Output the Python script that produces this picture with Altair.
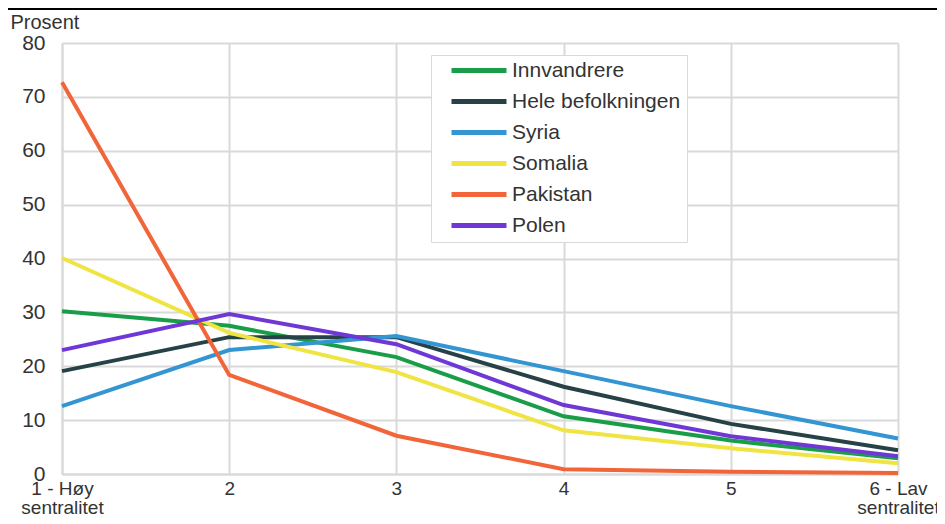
import altair as alt
import pandas as pd

categories = ["1 - Høy|sentralitet", "2", "3", "4", "5", "6 - Lav|sentralitet"]
series_names = ["Innvandrere", "Hele befolkningen", "Syria", "Somalia", "Pakistan", "Polen"]
innvandrere = [30.2, 27.5, 21.7, 10.7, 6.2, 2.9]
hele = [19.1, 25.4, 25.4, 16.2, 9.3, 4.4]
syria = [12.6, 23.0, 25.6, 19.1, 12.6, 6.6]
somalia = [40.1, 26.2, 18.9, 8.1, 4.8, 2.0]
pakistan = [72.7, 18.4, 7.1, 0.9, 0.4, 0.2]
polen = [23.0, 29.7, 24.1, 12.8, 7.0, 3.3]
colors = ["#1a9d49", "#274247", "#3396d2", "#f0e442", "#f26539", "#6e37d6"]

rows = []
for name, vals in zip(series_names, [innvandrere, hele, syria, somalia, pakistan, polen]):
    for c, v in zip(categories, vals):
        rows.append({"kat": c, "serie": name, "verdi": v})
df = pd.DataFrame(rows)

FONT = "Liberation Sans"
TXT = "#333333"

lines = alt.Chart(df).mark_line(strokeWidth=4).encode(
    x=alt.X("kat:N", sort=categories, scale=alt.Scale(type="point", padding=0),
            axis=alt.Axis(title=None, labelAngle=0, labelExpr="split(datum.label, '|')",
                          labelFontSize=19, labelFont=FONT, labelColor=TXT,
                          labelPadding=5, ticks=False, grid=True, gridColor="#d9d9d9",
                          gridWidth=2, domainColor="#d9d9d9", domainWidth=2,
                          labelLineHeight=19, labelBaseline="top", labelOverlap=False)),
    y=alt.Y("verdi:Q", scale=alt.Scale(domain=[0, 80]),
            axis=alt.Axis(values=[0, 10, 20, 30, 40, 50, 60, 70, 80], title="Prosent",
                          titleAngle=0, titleX=-52, titleY=-15, titleAlign="left",
                          titleBaseline="alphabetic", titleFontSize=20, titleFont=FONT,
                          titleFontWeight="normal", titleColor=TXT,
                          labelFontSize=21, labelFont=FONT, labelColor=TXT,
                          labelPadding=17, ticks=False, grid=True, gridColor="#d9d9d9",
                          gridWidth=2, domainColor="#d9d9d9", domainWidth=2)),
    color=alt.Color("serie:N", sort=series_names,
                    scale=alt.Scale(domain=series_names, range=colors),
                    legend=alt.Legend(title=None, orient="none", legendX=369, legendY=12,
                                      symbolType="stroke", symbolStrokeWidth=5,
                                      symbolSize=3025, clipHeight=19,
                                      symbolOffset=12,
                                      labelFontSize=21, labelFont=FONT,
                                      labelColor=TXT, labelOffset=3, labelLimit=400,
                                      labelExpr="datum.label + '\u2003'",
                                      fillColor="white", strokeColor="#d9d9d9",
                                      padding=6, rowPadding=9)),
)

top_rule = alt.Chart(pd.DataFrame({"a": [0]})).mark_rule(color="black", strokeWidth=2).encode(
    x=alt.value(-54), x2=alt.value(875), y=alt.value(-34)
)

chart = alt.layer(lines, top_rule).properties(
    width=836, height=431,
    autosize=alt.AutoSizeParams(type="none"),
    padding={"left": 54, "top": 35, "right": 39, "bottom": 42},
).configure_view(stroke=None)

chart.save("out.html", embed_options={"renderer": "svg", "actions": False})
